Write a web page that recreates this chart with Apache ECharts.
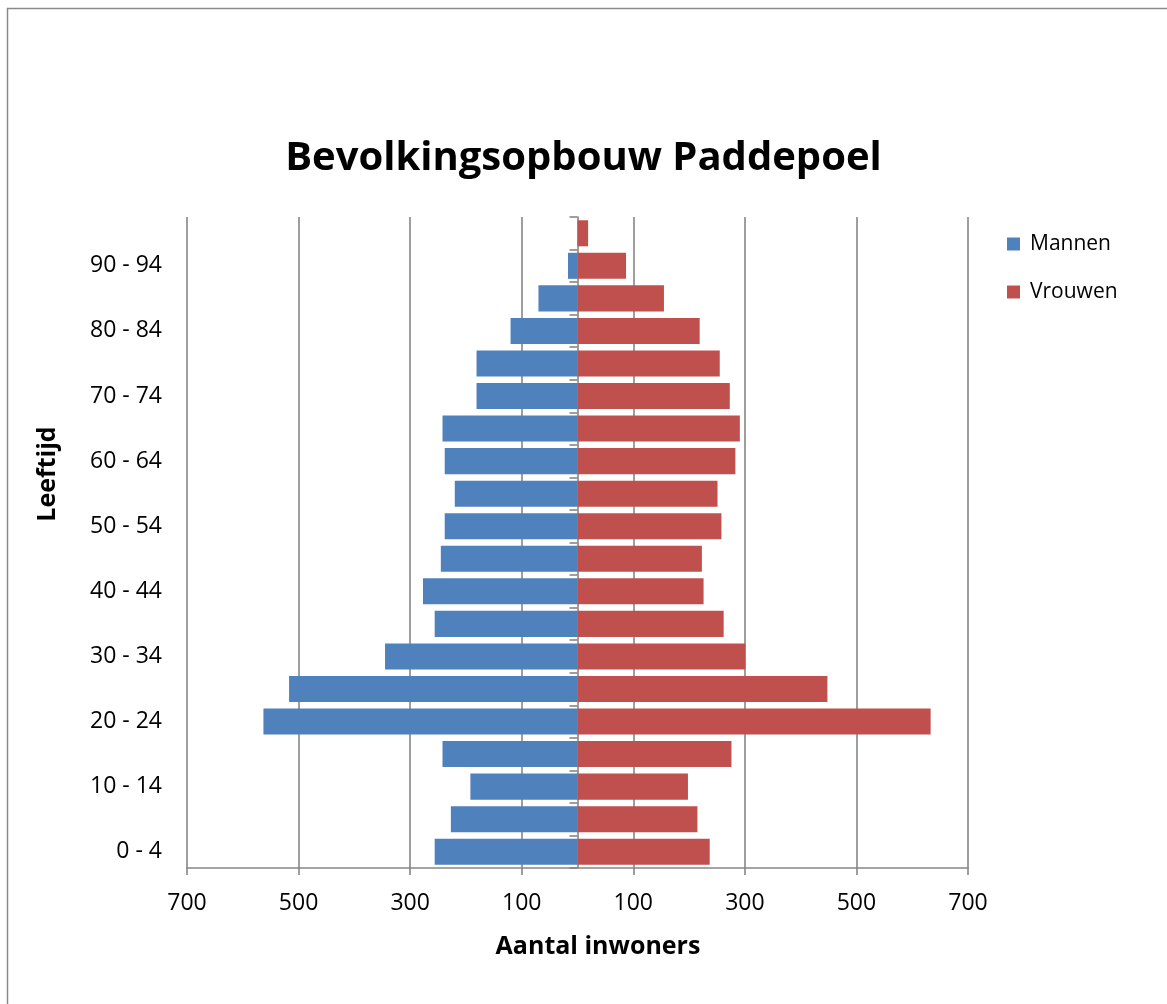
<!DOCTYPE html>
<html>
<head>
<meta charset="utf-8">
<script src="https://cdn.jsdelivr.net/npm/echarts@6/dist/echarts.min.js"></script>
<style>
html,body{margin:0;padding:0;background:#fff;}
#chart{width:1167px;height:1004px;}
</style>
</head>
<body>
<div id="chart"></div>
<script>
var ageGroups = ['0 - 4','5 - 9','10 - 14','15 - 19','20 - 24','25 - 29','30 - 34','35 - 39','40 - 44','45 - 49','50 - 54','55 - 59','60 - 64','65 - 69','70 - 74','75 - 79','80 - 84','85 - 89','90 - 94','95+'];
var mannen  = [256, 227, 192, 242, 563, 517, 345, 256, 277, 245, 238, 220, 238, 242, 181, 181, 120, 70, 17, 0];
var vrouwen = [237, 215, 198, 276, 633, 448, 301, 262, 226, 223, 258, 251, 283, 291, 273, 255, 219, 155, 87, 19];
var xTicks = [-700, -500, -300, -100, 100, 300, 500, 700];

var FONT = '"Open Sans", "Liberation Sans", sans-serif';
var GRAY = '#868686';

var chart = echarts.init(document.getElementById('chart'), null, {renderer: 'canvas'});
chart.setOption({
  animation: false,
  backgroundColor: '#fff',
  textStyle: {fontFamily: FONT},
  title: {
    text: 'Bevolkingsopbouw Paddepoel',
    left: 'center',
    top: 139,
    padding: 0,
    textStyle: {fontFamily: FONT, fontWeight: 'bold', fontSize: 40, color: '#000'}
  },
  legend: {
    orient: 'vertical',
    left: 1002,
    top: 228,
    itemWidth: 13,
    itemHeight: 13,
    itemGap: 26,
    icon: 'rect',
    textStyle: {fontFamily: FONT, fontSize: 21, color: '#000', lineHeight: 22, padding: [0, 0, 0, 5]},
    data: ['Mannen', 'Vrouwen']
  },
  grid: {left: 187, right: 199, top: 217, bottom: 136, containLabel: false},
  xAxis: {
    type: 'value',
    min: -700,
    max: 700,
    axisLine: {show: true, onZero: false, lineStyle: {color: GRAY, width: 1.6}},
    axisTick: {show: true, length: 7, customValues: xTicks, lineStyle: {color: GRAY, width: 1.6}},
    splitLine: {show: true, lineStyle: {color: GRAY, width: 1.6}},
    axisLabel: {
      customValues: xTicks,
      margin: 24,
      fontFamily: FONT, fontSize: 23, color: '#000',
      formatter: function (v) { return String(Math.abs(v)); }
    }
  },
  yAxis: [
    {
      type: 'category',
      data: ageGroups,
      position: 'left',
      axisLine: {show: false, onZero: false},
      axisTick: {show: false},
      splitLine: {show: false},
      axisLabel: {interval: 1, margin: 25, fontFamily: FONT, fontSize: 23, color: '#000'}
    },
    {
      type: 'category',
      data: ageGroups,
      position: 'left',
      axisLine: {show: true, onZero: true, lineStyle: {color: GRAY, width: 1.6}},
      axisTick: {show: true, interval: 0, length: 8, lineStyle: {color: GRAY, width: 1.6}},
      axisLabel: {show: false},
      splitLine: {show: false}
    }
  ],
  graphic: [
    {
      type: 'rect',
      shape: {x: 7.5, y: 8.5, width: 1300, height: 1200},
      style: {fill: 'none', stroke: '#8a8a8a', lineWidth: 1.5},
      silent: true, z: -10
    },
    {
      type: 'text',
      x: 598, y: 947,
      style: {text: 'Aantal inwoners', fontFamily: FONT, fontWeight: 'bold', fontSize: 25, fill: '#000', align: 'center', verticalAlign: 'middle'}
    },
    {
      type: 'text',
      x: 48, y: 474,
      rotation: Math.PI / 2,
      style: {text: 'Leeftijd', fontFamily: FONT, fontWeight: 'bold', fontSize: 25, fill: '#000', align: 'center', verticalAlign: 'middle'}
    }
  ],
  series: [
    {
      name: 'Mannen',
      type: 'bar',
      stack: 'pop',
      yAxisIndex: 0,
      barCategoryGap: '20%',
      itemStyle: {color: '#4F81BD'},
      data: mannen.map(function (v) { return -v; })
    },
    {
      name: 'Vrouwen',
      type: 'bar',
      stack: 'pop',
      yAxisIndex: 0,
      barCategoryGap: '20%',
      itemStyle: {color: '#C0504D'},
      data: vrouwen
    }
  ]
});
</script>
</body>
</html>
